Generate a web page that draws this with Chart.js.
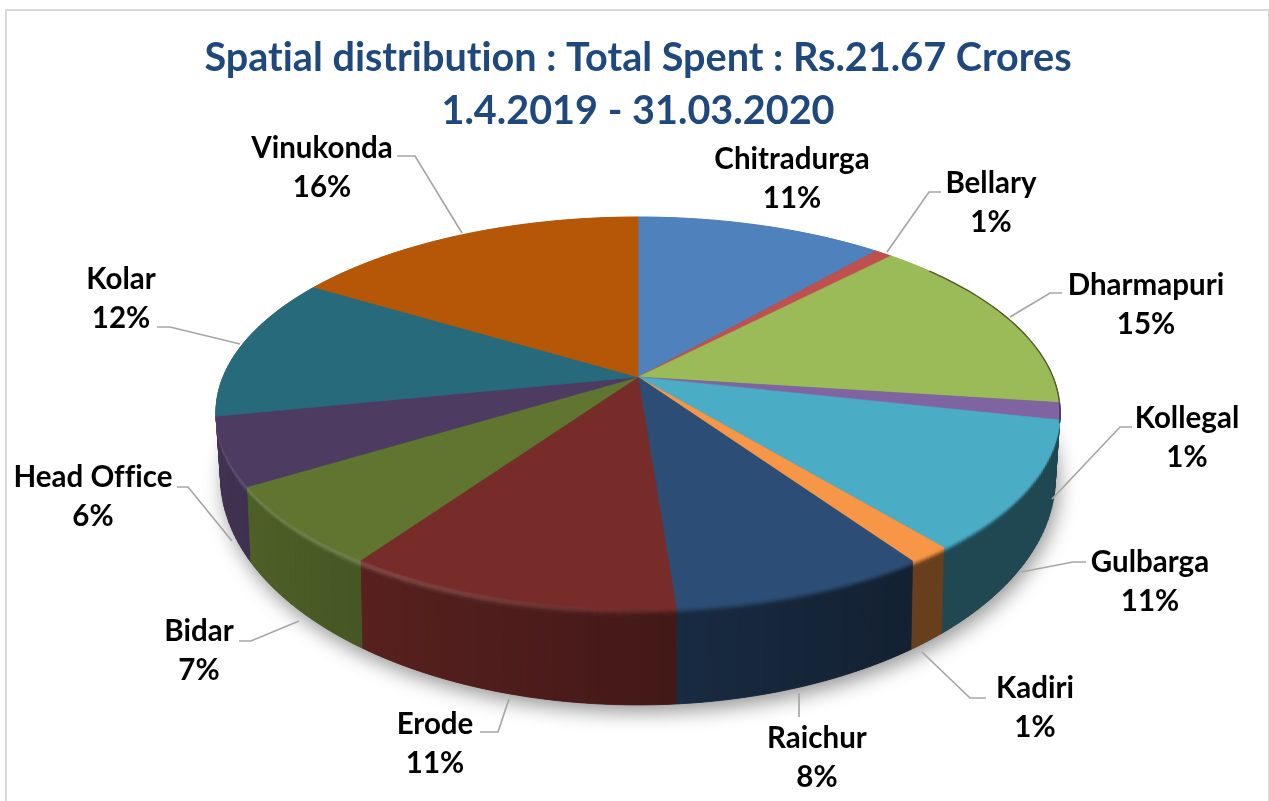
<!DOCTYPE html>
<html>
<head>
<meta charset="utf-8">
<style>
html,body{margin:0;padding:0;background:#fff;overflow:hidden}
#frame{position:absolute;left:5px;top:9px;width:1261px;height:800px;border:2px solid #d9d9d9;box-sizing:content-box}
canvas{position:absolute;left:0;top:0}
</style>
<script src="https://cdn.jsdelivr.net/npm/chart.js@4/dist/chart.umd.min.js"></script>
</head>
<body>
<div id="frame"></div>
<canvas id="c" width="1269" height="801"></canvas>
<script>
const titleLines = ['Spatial distribution : Total Spent : Rs.21.67 Crores', '1.4.2019 - 31.03.2020'];
const categories = ['Chitradurga','Bellary','Dharmapuri','Kollegal','Gulbarga','Kadiri','Raichur','Erode','Bidar','Head Office','Kolar','Vinukonda'];
const values = [11.3,0.8,15.0,1.4,10.6,1.4,8.3,10.8,6.6,5.6,11.9,16.3];
const percentLabels = ['11%','1%','15%','1%','11%','1%','8%','11%','7%','6%','12%','16%'];
const colors = ['#4f81bd','#c0504d','#9bbb59','#8064a2','#4bacc6','#f79646','#2c4d75','#772c2a','#5f7530','#4d3b62','#276a7c','#b65708'];

// Presentation only: where each text block sits and how its leader runs.
const labelCentres = [[792,159],[991,183],[1146,285],[1187,418],[1150,562],[1035,688],[817,738],[435,724],[199,631],[93,477],[121,279],[322,148]];
const leaders = [null,
  [[887,252],[929,192],[941,192]],
  [[1010,317],[1050,293],[1062,293]],
  [[1052,499],[1120,427],[1132,427]],
  [[1021,572],[1073,562],[1086,562]],
  [[922,652],[970,698],[986,698]],
  [[799,693],[799,717]],
  [[509,699],[498,732],[480,732]],
  [[299,621],[251,641],[239,641]],
  [[232,541],[188,487],[177,487]],
  [[240,344],[170,327],[157,327]],
  [[462,233],[415,156],[397,156]]];

const CX = 638;
const TOP = {y0:377, a:415, b:189, k:-0.1817};
const BASE = {y0:434, a:410, b:220, k:-0.188};
const BEVEL = 0.09;

function project(p, X, Y){const w=1+p.k*Y;return [CX+p.a*X/w, p.y0+p.b*Y/w];}
function rim(t,h){
  const X=Math.sin(t),Y=-Math.cos(t);
  const a=project(TOP,X,Y),b=project(BASE,X,Y);
  return [a[0]+(b[0]-a[0])*h,a[1]+(b[1]-a[1])*h];
}
function rgb(hex){return [1,3,5].map(i=>parseInt(hex.substr(i,2),16));}
function mix(a,b,u){return a.map((v,i)=>v+(b[i]-v)*u);}
function css(c){return 'rgb('+c.map(v=>Math.round(v)).join(',')+')';}
function quad(ctx,pts,fill){
  ctx.beginPath();pts.forEach((p,i)=>i?ctx.lineTo(p[0],p[1]):ctx.moveTo(p[0],p[1]));ctx.closePath();
  ctx.fillStyle=fill;ctx.strokeStyle=fill;ctx.lineWidth=0.8;ctx.fill();ctx.stroke();
}

const pie3d = {
  id:'pie3d',
  beforeDraw(chart){chart.ctx.letterSpacing='0.01px';},
  beforeDatasetsDraw(chart){
    const ctx=chart.ctx;
    const arcs=chart.getDatasetMeta(0).data.map(el=>el.getProps(['startAngle','endAngle'],true));
    const STEP=Math.PI/180;
    ctx.save();
    // soft ground shadow
    ctx.save();
    ctx.shadowColor='rgba(0,0,0,0.42)';ctx.shadowBlur=20;ctx.shadowOffsetY=7;ctx.shadowOffsetX=3;
    ctx.fillStyle='#555';ctx.beginPath();
    for(let t=0;t<Math.PI*2;t+=STEP){const p=rim(t,1);t?ctx.lineTo(p[0],p[1]):ctx.moveTo(p[0],p[1]);}
    ctx.closePath();ctx.fill();ctx.restore();
    // side walls and rim bevel, back to front
    const segs=[];
    arcs.forEach((a,i)=>{
      const s=a.startAngle+Math.PI/2,e=a.endAngle+Math.PI/2;
      const n=Math.max(1,Math.ceil((e-s)/STEP));
      for(let j=0;j<n;j++)segs.push({i,t0:s+(e-s)*j/n,t1:s+(e-s)*(j+1)/n});
    });
    segs.sort((p,q)=>(-Math.cos((p.t0+p.t1)/2))-(-Math.cos((q.t0+q.t1)/2)));
    segs.forEach(g=>{
      const tm=(g.t0+g.t1)/2,X=Math.sin(tm);
      const c=rgb(colors[g.i]);
      const wall=mix([0,0,0],c,Math.max(0.42,0.58-0.28*X));
      quad(ctx,[rim(g.t0,BEVEL),rim(g.t1,BEVEL),rim(g.t1,1),rim(g.t0,1)],css(wall));
      const H=Math.min(1,Math.max(0,(0.1-X)/0.6))*0.14;
      const bands=5;
      for(let b=0;b<bands;b++){
        const u=(b+0.5)/bands;
        let col=mix(c,wall,u*u*(3-2*u));
        col=mix(col,[255,255,255],H*Math.sin(Math.PI*u));
        quad(ctx,[rim(g.t0,BEVEL*b/bands),rim(g.t1,BEVEL*b/bands),rim(g.t1,BEVEL*(b+1)/bands),rim(g.t0,BEVEL*(b+1)/bands)],css(col));
      }
    });
    // top surface
    arcs.forEach((a,i)=>{
      const s=a.startAngle+Math.PI/2,e=a.endAngle+Math.PI/2;
      const n=Math.max(2,Math.ceil((e-s)/STEP));
      ctx.beginPath();ctx.moveTo(CX,TOP.y0);
      for(let j=0;j<=n;j++){const p=rim(s+(e-s)*j/n,0);ctx.lineTo(p[0],p[1]);}
      ctx.closePath();
      ctx.fillStyle=colors[i];ctx.strokeStyle=colors[i];ctx.lineWidth=0.6;ctx.fill();ctx.stroke();
      // thin shaded edge on the far right
      ctx.beginPath();
      let open=false;
      for(let j=0;j<=n;j++){
        const t=s+(e-s)*j/n;
        if(Math.sin(t)>0.78&&Math.cos(t)>-0.25){const p=rim(t,0);open?ctx.lineTo(p[0],p[1]):ctx.moveTo(p[0],p[1]);open=true;}
      }
      if(open){ctx.strokeStyle=css(mix([0,0,0],rgb(colors[i]),0.5));ctx.lineWidth=1.4;ctx.stroke();}
    });
    // leaders
    ctx.strokeStyle='#a6a6a6';ctx.lineWidth=1.7;
    leaders.forEach(l=>{
      if(!l)return;
      ctx.beginPath();l.forEach((p,i)=>i?ctx.lineTo(p[0],p[1]):ctx.moveTo(p[0],p[1]));ctx.stroke();
    });
    // labels
    ctx.fillStyle='#000';ctx.font='700 29.5px Lato';ctx.textAlign='center';ctx.textBaseline='middle';
    categories.forEach((name,i)=>{
      const [x,y]=labelCentres[i];
      ctx.fillText(name,x,y);
      ctx.fillText(percentLabels[i],x,y+39);
    });
    ctx.restore();
    return false;
  }
};

new Chart(document.getElementById('c'),{
  type:'pie',
  data:{labels:categories,datasets:[{data:values,backgroundColor:colors,borderWidth:0}]},
  options:{
    responsive:false,animation:false,
    rotation:0,circumference:360,
    layout:{padding:{left:7}},
    plugins:{
      legend:{display:false},tooltip:{enabled:false},
      title:{display:true,text:titleLines,color:'#1f497d',
        font:{family:'Lato',size:39.6,weight:'700',lineHeight:1.33},
        padding:{top:32,bottom:0}}
    }
  },
  plugins:[pie3d]
});
</script>
</body>
</html>
